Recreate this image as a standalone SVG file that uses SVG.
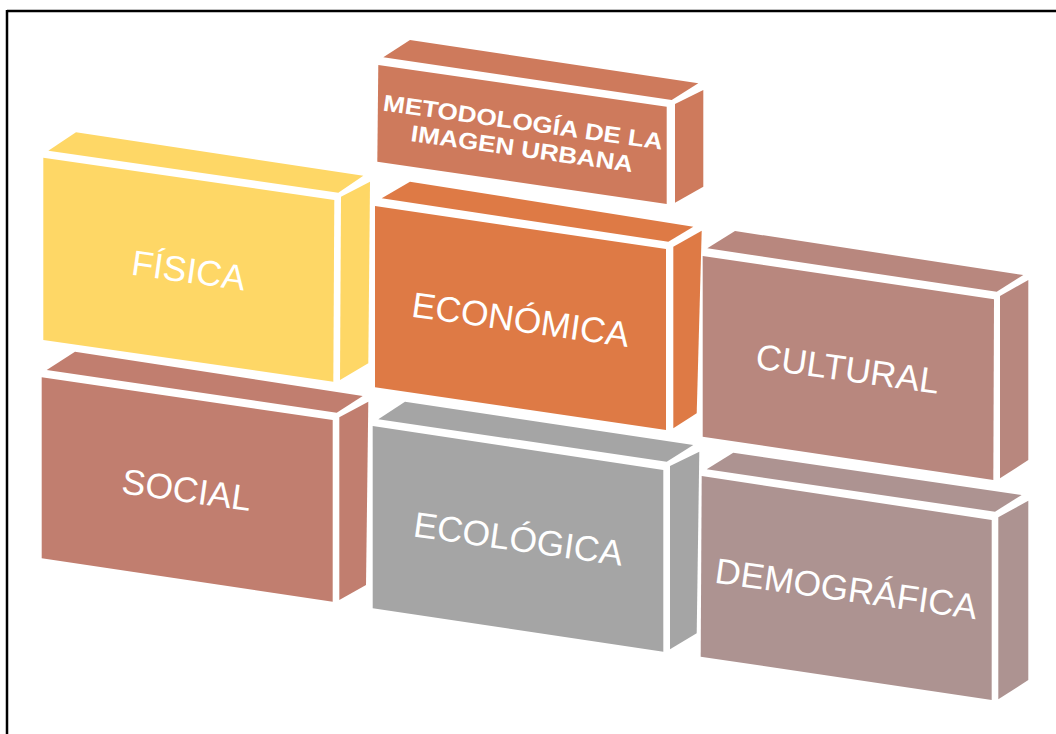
<svg xmlns="http://www.w3.org/2000/svg" width="1056" height="734" viewBox="0 0 1056 734">
<style>
.frame{stroke:#000;stroke-width:2.5;fill:none}
.lbl{font-family:"Liberation Sans",Arial,sans-serif;font-size:35.5px;fill:#fff;text-anchor:middle}
.ttl{font-family:"Liberation Sans",Arial,sans-serif;font-size:23px;font-weight:bold;fill:#fff;text-anchor:middle}
.fis{fill:#FED766}
.met{fill:#CE7A5C}
.eco{fill:#DE7A45}
.cul{fill:#B8877E}
.soc{fill:#C17E6F}
.ecl{fill:#A5A5A5}
.dem{fill:#AD9391}
</style>
<rect width="1056" height="734" fill="#fff"/>
<g id="frame">
<line class="frame" x1="7" y1="11" x2="1056" y2="11"/>
<line class="frame" x1="7" y1="10" x2="7" y2="734"/>
</g>
<g id="metodologia" class="met">
<polygon points="383.3,57.3 410,40 698.3,83.3 671.7,100"/>
<polygon points="378.3,65 666.7,106.7 666.7,204 377.3,161.7"/>
<polygon points="675,104 703.3,90 703.3,186.7 675,202.7"/>
<text class="ttl" x="522" y="130" textLength="282" lengthAdjust="spacingAndGlyphs" transform="rotate(8 522 130)">METODOLOGÍA DE LA</text>
<text class="ttl" x="521" y="156.5" textLength="224" lengthAdjust="spacingAndGlyphs" transform="rotate(8 521 156.5)">IMAGEN URBANA</text>
</g>
<g id="fisica" class="fis">
<polygon points="48.3,150.7 76,132.3 363.3,175.7 338.3,192.7"/>
<polygon points="43.3,157.7 334.3,200 333.3,381.7 43.3,340"/>
<polygon points="341,196.7 370,181.7 368.3,363.3 340,380"/>
<text class="lbl" x="187" y="282.5" transform="rotate(8 187 282.5)">FÍSICA</text>
</g>
<g id="economica" class="eco">
<polygon points="381.7,198.3 410,181.7 693.3,226.7 668.3,241.7"/>
<polygon points="375,206 666,249 666,430 375,387.3"/>
<polygon points="673.3,246.7 701.7,230.7 696.7,413.3 673.3,428.3"/>
<text class="lbl" x="519" y="331.7" transform="rotate(8 519 331.7)">ECONÓMICA</text>
</g>
<g id="cultural" class="cul">
<polygon points="707.3,248.3 735,231 1023.3,275 996.7,291.7"/>
<polygon points="702.7,256 994,299.3 993.3,480 702.7,436.7"/>
<polygon points="1000,296 1028.3,280 1028.3,460 1000,478.3"/>
<text class="lbl" x="846" y="381" transform="rotate(8 846 381)">CULTURAL</text>
</g>
<g id="social" class="soc">
<polygon points="46.7,370 75,351.7 362.7,396 336.7,412.7"/>
<polygon points="41.7,377.3 332.7,420 332.7,601.7 41.7,558.3"/>
<polygon points="339.3,417.3 368.3,401.7 366,585 339.3,600"/>
<text class="lbl" x="185" y="502" transform="rotate(8 185 502)">SOCIAL</text>
</g>
<g id="ecologica" class="ecl">
<polygon points="378.3,419.3 405,401.7 693.3,445 666.7,461.7"/>
<polygon points="372.7,426 663.3,470 663.3,651.7 372.7,608.3"/>
<polygon points="670,466 699.3,451.7 696.7,633.3 670,649.3"/>
<text class="lbl" x="516.7" y="551" transform="rotate(8 516.7 551)">ECOLÓGICA</text>
</g>
<g id="demografica" class="dem">
<polygon points="706.7,469.3 733.3,452.7 1021.7,495 995,511.7"/>
<polygon points="701.7,476 991.7,520 991.7,700 700.7,656.7"/>
<polygon points="998.3,517.3 1028.3,500.7 1028.3,680 998.3,699.3"/>
<text class="lbl" x="844.7" y="601" transform="rotate(8 844.7 601)">DEMOGRÁFICA</text>
</g>
</svg>
